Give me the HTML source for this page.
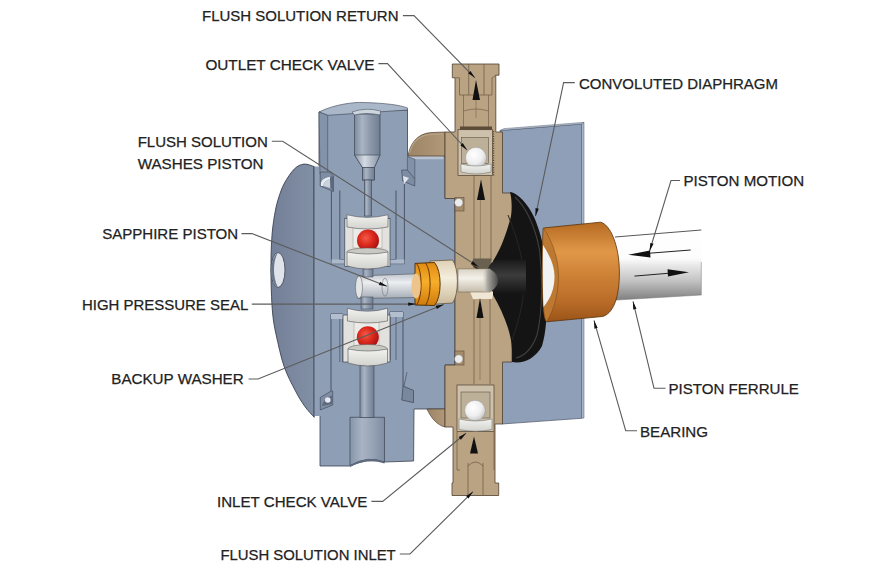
<!DOCTYPE html>
<html><head><meta charset="utf-8">
<style>
html,body{margin:0;padding:0;background:#fff;width:880px;height:569px;overflow:hidden}
svg{display:block}
text{font-family:"Liberation Sans",sans-serif;font-size:15.4px;fill:#222;stroke:#222;stroke-width:0.25}
</style></head><body>
<svg width="880" height="569" viewBox="0 0 880 569">
<defs>
<linearGradient id="gShaft" x1="0" y1="0" x2="0" y2="1">
<stop offset="0" stop-color="#ffffff"/><stop offset="0.4" stop-color="#fcfcfc"/><stop offset="0.5" stop-color="#e8e8e8"/><stop offset="0.72" stop-color="#c2c2c2"/><stop offset="1" stop-color="#7c7c7c"/></linearGradient>
<linearGradient id="gBearing" x1="0" y1="0" x2="0" y2="1">
<stop offset="0" stop-color="#b56a22"/><stop offset="0.3" stop-color="#e09848"/><stop offset="0.5" stop-color="#d08438"/><stop offset="0.8" stop-color="#b86c28"/><stop offset="1" stop-color="#9a5418"/></linearGradient>
<linearGradient id="gBody" x1="0" y1="0" x2="1" y2="0">
<stop offset="0" stop-color="#737f96"/><stop offset="1" stop-color="#8290a6"/></linearGradient>
<linearGradient id="gBore" x1="0" y1="0" x2="1" y2="0">
<stop offset="0" stop-color="#7d8ba0"/><stop offset="0.3" stop-color="#a9b4c3"/><stop offset="0.6" stop-color="#8e9aac"/><stop offset="1" stop-color="#6f7d92"/></linearGradient>
<linearGradient id="gBoreB" x1="0" y1="0" x2="1" y2="0"><stop offset="0" stop-color="#8795aa"/><stop offset="0.35" stop-color="#a8b4c4"/><stop offset="0.65" stop-color="#97a4b7"/><stop offset="1" stop-color="#7f8ca1"/></linearGradient>
<linearGradient id="gShEnd" x1="0" y1="0" x2="1" y2="0"><stop offset="0" stop-color="#dcd8cc" stop-opacity="0"/><stop offset="0.35" stop-color="#a8a6a0"/><stop offset="1" stop-color="#4a4a4a"/></linearGradient>
<linearGradient id="gCone" x1="0" y1="0" x2="1" y2="0">
<stop offset="0" stop-color="#8d99aa"/><stop offset="0.4" stop-color="#d5dbe3"/><stop offset="1" stop-color="#8592a5"/></linearGradient>
<linearGradient id="gPist" x1="0" y1="0" x2="0" y2="1">
<stop offset="0" stop-color="#bfc6cf"/><stop offset="0.35" stop-color="#eceef0"/><stop offset="1" stop-color="#a6adb7"/></linearGradient>
<linearGradient id="gShaftIn" x1="0" y1="0" x2="0" y2="1">
<stop offset="0" stop-color="#d8d2c4"/><stop offset="0.4" stop-color="#f4f1ea"/><stop offset="1" stop-color="#c4bcaa"/></linearGradient>
<linearGradient id="gSeal" x1="0" y1="0" x2="0" y2="1">
<stop offset="0" stop-color="#e08a12"/><stop offset="0.45" stop-color="#f6ae2c"/><stop offset="1" stop-color="#d07a0a"/></linearGradient>
<linearGradient id="gCollar" x1="0" y1="0" x2="0" y2="1">
<stop offset="0" stop-color="#ddd0b4"/><stop offset="0.4" stop-color="#f5eedd"/><stop offset="1" stop-color="#c9ba9a"/></linearGradient>
<linearGradient id="gHub" x1="0" y1="0" x2="0" y2="1">
<stop offset="0" stop-color="#1a1a1a"/><stop offset="0.45" stop-color="#3c3c3c"/><stop offset="1" stop-color="#141414"/></linearGradient>
<radialGradient id="gRed" cx="0.4" cy="0.38" r="0.65">
<stop offset="0" stop-color="#f25a48"/><stop offset="0.5" stop-color="#dc2a1e"/><stop offset="1" stop-color="#a81010"/></radialGradient>
<radialGradient id="gWhiteBall" cx="0.4" cy="0.35" r="0.7">
<stop offset="0" stop-color="#ffffff"/><stop offset="0.6" stop-color="#eeeeee"/><stop offset="1" stop-color="#c2c2c2"/></radialGradient>
<linearGradient id="gWasher" x1="0" y1="0" x2="0" y2="1">
<stop offset="0" stop-color="#f2f2f0"/><stop offset="1" stop-color="#d2d2ce"/></linearGradient>
<linearGradient id="gBrassFl" x1="0" y1="0" x2="1" y2="0">
<stop offset="0" stop-color="#9c8466"/><stop offset="1" stop-color="#b09878"/></linearGradient>
</defs>

<!-- ========== SHAFT ========== -->
<path d="M600,238 L701.3,230 L701.3,295 L600,301 Z" fill="url(#gShaft)"/><path d="M701.3,262 L701.3,295 L600,301" fill="none" stroke="#777" stroke-width="0.5"/>
<path d="M615,237 L701.3,230" stroke="#444" stroke-width="0.9" fill="none"/>

<!-- ========== RIGHT PLATE ========== -->
<path d="M500,130.5 L581.5,124 L581.5,418.3 L502,424 Z" fill="#8e9fb7" stroke="#4a5464" stroke-width="0.7"/>
<path d="M500,130.5 L581.5,124 L584,122.3 L504,128.6 Z" fill="#b4c0d0" stroke="#4a5464" stroke-width="0.4"/>
<path d="M581.5,124 L584,122.3 L584,418 L581.5,418.3 Z" fill="#a9b6c8" stroke="#4a5464" stroke-width="0.5"/>

<!-- ========== LEFT ROUND BODY ========== -->
<path d="M314.0,166.5 C312.3,166.1 307.3,163.7 304.0,164.1 C300.7,164.5 297.6,165.8 294.3,169.0 C291.1,172.2 287.1,178.3 284.5,183.0 C281.9,187.7 280.4,192.3 278.9,197.0 C277.4,201.7 276.4,205.0 275.3,211.0 C274.2,217.0 272.9,224.8 272.2,233.0 C271.5,241.2 271.1,250.5 271.0,260.0 C270.9,269.5 271.0,280.8 271.3,290.0 C271.6,299.2 272.0,307.5 272.8,315.0 C273.6,322.5 274.3,326.4 276.2,335.0 C278.1,343.6 281.0,357.5 284.2,366.7 C287.4,375.9 291.8,383.8 295.2,390.4 C298.6,397.0 301.5,401.7 304.7,406.2 C307.9,410.7 312.6,415.4 314.2,417.3 Z" fill="url(#gBody)" stroke="#3b4352" stroke-width="0.9"/>

<ellipse cx="278" cy="270" rx="7" ry="17.5" fill="#dfe4ea" stroke="#3b4352" stroke-width="0.8"/>
<path d="M278,252.5 C273,256 271,265 271,270 C271,276 273,284 278,287.5 C275,282 274,275 274,270 C274,264 275,257 278,252.5 Z" fill="#6a778b"/>
<!-- ========== HOUSING FRONT ========== -->
<path d="M314,166.5 L320,166.5 L320,416 L314,416 Z" fill="#909fb5"/><path d="M314,166.5 L314,416" stroke="#3b4352" stroke-width="0.8"/>
<path d="M319,112 L407.5,110 L407.5,156 L445,156 L445,198.5 L455,198.5 L455,365 L445,365 L445,409 L414,409 L413.6,461 L384.5,462 Q367.5,457.5 350,466 L320,466 L320,416 L319,166 Z" fill="#8e9eb5"/><path d="M319,166 L319,112 L407.5,110 L407.5,156 L445,156 L445,198.5 L455,198.5 L455,365 L445,365 L445,409 L414,409 L413.6,461 L384.5,462 Q367.5,457.5 350,466 L320,466 L320,416" fill="none" stroke="#3b4352" stroke-width="0.8"/>
<!-- top face -->
<path d="M319,112 C335,104 355,102 363,102.5 C385,103 400,105 407.5,108 L407.5,110 L327.7,115.3 Z" fill="#a9b7c9" stroke="#3b4352" stroke-width="0.6"/>
<!-- left side strip -->
<path d="M319,112 L327.7,115.3 L327.7,174 L320,174 Z" fill="#8293aa" stroke="#3b4352" stroke-width="0.5"/>
<!-- flange top face -->
<path d="M407.5,155.5 L443.5,155.5 L443.5,159.2 L411,159.2 Z" fill="#b8c2d0"/>
<!-- cavity lines -->
<g stroke="#3b4352" stroke-width="0.8" fill="none">
<path d="M331.4,191 L331.4,263.7 L344,263.7"/>
<path d="M339.8,190.5 L339.8,259.5 L344,259.5"/>
<path d="M404.4,184 L404.4,263.7 L390.5,263.7"/>
<path d="M396,190.5 L396,259.5 L390.5,259.5"/>
<path d="M331,391 L331,314 L343,314"/>
<path d="M403,386 L403,312 L390,312"/>
<path d="M339.8,318 L339.8,362" stroke-width="0.6"/>
<path d="M396,316 L396,360" stroke-width="0.6"/>
<path d="M390,312 L390,360"/>
<path d="M343,315 L343,362"/>
</g>
<path d="M331.4,259.5 L404.4,259.5 L404.4,263.7 L331.4,263.7 Z" fill="#b3bfcf" opacity="0.8"/>
<path d="M331,314 L343,314 L343,319 L331,319 Z" fill="#b3bfcf"/><path d="M390,312 L403,312 L403,317 L390,317 Z" fill="#b3bfcf"/>
<!-- snap ring grooves -->
<path d="M320.2,172 L330,172 L333.5,176 L333.5,191.5 L320.2,186 Z" fill="#7e8da3" stroke="#3b4352" stroke-width="0.6"/>
<path d="M321,186 C320,181 324,177.5 330,177 L330,179.5 C326,180 323,183 323.5,186 Z" fill="#e8edf2"/>
<path d="M323.5,186 C323,183 326,180 330,179.5 L330.5,188 Z" fill="#c9d2dd"/>
<path d="M330,177 L333.5,176 L333.5,191.5 L330.5,188 Z" fill="#5d6a7e"/>
<path d="M407.4,156.6 L414.8,159.2 L414.8,178.8 L407.4,176 Z" fill="#8191a8" stroke="#3b4352" stroke-width="0.5"/><path d="M401.6,170 L407.4,170 L414.8,178.8 L414.8,186 L402.6,181 Z" fill="#7c8ca3" stroke="#3b4352" stroke-width="0.6"/><path d="M403,176 L409,178 L404,184 Z" fill="#dfe5ec"/>
<path d="M331.2,391 L320.3,397.5 L320.3,410 L332.7,405 L332.7,391 Z" fill="#7e8da3" stroke="#3b4352" stroke-width="0.6"/>
<path d="M322,406 C323,401 327,397 332,395.5 L332.5,404 Z" fill="#5d6a7e"/>
<circle cx="327.8" cy="400" r="2.8" fill="#e6ebf1"/>
<path d="M403,386 L413.5,390.4 L413.5,402.6 L401.8,400 Z" fill="#7a889e" stroke="#3b4352" stroke-width="0.7"/>
<path d="M407,372 L404,386" stroke="#3b4352" stroke-width="0.6"/>

<!-- top bore -->
<path d="M354.5,114 L380,114 L380,155 L374.3,167.5 L374.3,180 L362.5,180 L362.5,167.5 L354.5,155 Z" fill="url(#gBore)" stroke="#3b4352" stroke-width="0.7"/>
<path d="M354.5,155 L380,155 L374.3,167.5 L362.5,167.5 Z" fill="url(#gCone)" stroke="#3b4352" stroke-width="0.6"/>
<path d="M352,112 Q366,107 380.6,111 L380,115 Q366,112 354.5,115 Z" fill="#cdd5df" stroke="#3b4352" stroke-width="0.5"/>
<rect x="362.5" y="167.5" width="11.8" height="12.5" fill="url(#gBore)" stroke="#3b4352" stroke-width="0.6"/>
<rect x="364.5" y="180" width="7" height="36" fill="url(#gBore)" stroke="#3b4352" stroke-width="0.6"/>
<!-- bottom bore -->
<path d="M350,417.3 L384.5,417.3 L384.5,462 Q367.5,455 350,465.5 Z" fill="url(#gBoreB)" stroke="#3b4352" stroke-width="0.7"/><path d="M350,465.5 Q367.5,455 384.5,462 L384.5,463.5 Q367.5,457.5 350,467 Z" fill="#5f6b7e"/>
<rect x="360" y="365" width="14" height="52.5" fill="url(#gBore)" stroke="#3b4352" stroke-width="0.6"/>

<!-- ========== BRASS ========== -->
<path d="M408,156 C410,144 417,133.5 431,132.6 L445,132 L445,156 Z" fill="url(#gBrassFl)" stroke="#4f4030" stroke-width="0.7"/><path d="M409.5,153 C412,143 418,135 431,134.3 L443,134" fill="none" stroke="#b8a384" stroke-width="1.2"/>
<path d="M427,409 C431,418 437,425 445,427 L445,409 Z" fill="url(#gBrassFl)" stroke="#4f4030" stroke-width="0.7"/>
<path d="M445,132 L455,132 L455,77.8 L452.3,77.8 L452.3,64 L499,64 L499,75.2 L495.8,75.2 L495.8,132 L502.5,132 L502.5,193 L512,193 L512,362 L502.5,362 L502.5,424 L495,424 L495,483 L498.7,483 L498.7,495.5 L452,495.5 L452,483 L453,483 L453,427 L445,427 L445,365 L455,365 L455,198.5 L445,198.5 Z" fill="#b9a383" stroke="#4f4030" stroke-width="0.8"/>
<!-- inner channel -->
<g stroke="#6a5844" stroke-width="0.7" fill="none">
<path d="M474,176 L474,268 M491,176 L491,268 M474,300 L474,384 M490,298 L490,384"/>
<path d="M480.4,200 L480.4,262 M480,318 L480,380" stroke-width="0.5"/>
<path d="M455,77.8 L459.5,77.8 L459.5,95 L492,95 L492,78 L495.8,75.2 M468.7,64 L468.7,95 M484,64 L484,95"/>
<path d="M463.5,95 L463.5,128 M488.5,95 L488.5,128 M463.5,111 Q476,107 488.5,111" stroke-width="0.6"/>
<path d="M476,100 L476,118" stroke-width="0.5"/>
<path d="M468,463 L468,495 M483,463 L483,495 M468,466 Q475.5,458 483,466"/>
<path d="M457,432 L457,470 L460,470 M494,432 L494,470"/>
</g>
<!-- o-ring grooves -->
<rect x="455" y="197.7" width="9" height="13.3" fill="#a48b6b" stroke="#4f4030" stroke-width="0.5"/>
<circle cx="458.7" cy="202.6" r="4.2" fill="#ececec" stroke="#777" stroke-width="0.4"/>
<rect x="455" y="351" width="9" height="14" fill="#a48b6b" stroke="#4f4030" stroke-width="0.5"/>
<circle cx="458.7" cy="359" r="4.2" fill="#ececec" stroke="#777" stroke-width="0.4"/>

<!-- bore chamfers around shaft -->
<path d="M473.5,258.5 L491.7,258.5 L489,269 L480,269 L471,264 Z" fill="#6a6050"/><path d="M471,264 L480,269 L476,269 Z" fill="#2a2418"/>
<path d="M470,291.7 L494,291.7 L492,299 L473,299 Z" fill="#efe7d4"/>

<!-- upper cage -->
<rect x="460" y="126.5" width="32" height="4" fill="#5a4a36"/>
<path d="M493.5,131 L493.5,176" stroke="#5a4a36" stroke-width="1.4" stroke-dasharray="1.2,1.2"/>
<rect x="458" y="129.7" width="34.4" height="45.7" fill="#cdc1ab" stroke="#4f4030" stroke-width="0.7"/>
<rect x="461.5" y="137.5" width="27" height="26" fill="#bdb098" stroke="#4f4030" stroke-width="0.5"/>
<circle cx="476" cy="157.8" r="10.5" fill="url(#gWhiteBall)" stroke="#888" stroke-width="0.4"/>
<path d="M461,164 Q476,168 491,164 L491,172 Q476,176 461,172 Z" fill="url(#gWasher)" stroke="#666" stroke-width="0.5"/>
<!-- lower cage -->
<rect x="457" y="385" width="37" height="46.5" fill="#cdc1ab" stroke="#4f4030" stroke-width="0.7"/>
<rect x="461" y="392" width="29" height="26" fill="#bdb098" stroke="#4f4030" stroke-width="0.5"/>
<circle cx="475" cy="410.6" r="10.3" fill="url(#gWhiteBall)" stroke="#888" stroke-width="0.4"/>
<path d="M459,419 Q475.5,423 492,419 L492,429.5 Q475.5,433 459,429.5 Z" fill="url(#gWasher)" stroke="#666" stroke-width="0.5"/>

<!-- arrows in brass -->
<path d="M476,80 L480,100 L472.5,100 Z" fill="#111"/>
<path d="M481,179.5 L485,200 L477,200 Z" fill="#111"/>
<path d="M480,298 L483.5,318 L476.5,318 Z" fill="#111"/>
<path d="M474,436.5 L478,453.5 L470,453.5 Z" fill="#111"/>

<!-- ========== DIAPHRAGM ========== -->
<path d="M510,192 C518,193 528,204 534,217 C541,233 546.5,255 547,280 C547.5,305 547,330 542,346 C535,359 523,364 512,362 C512,350 513,345 508,328 C504,316 499,305 493,295 L493,261 C500,250 505,238 510,220 C513,210 512,200 510,192 Z" fill="#141414"/>
<path d="M515,197 C525,206 535,225 539.5,250 C542.5,275 543,310 537,335 C532,349 524,356 516,358" stroke="#404040" stroke-width="1.1" fill="none"/><path d="M508,215 C518,240 524,262 524,280 C524,300 520,318 512,340" stroke="#262626" stroke-width="1" fill="none"/>
<path d="M497,259.7 L526,259.7 L526,294 L497,294 C490,291 486.5,285 486.5,277 C486.5,268 490,262 497,259.7 Z" fill="url(#gHub)"/>

<!-- ========== PISTON + SEAL ========== -->
<path d="M358,276 L416,273.8 L416,297.5 L358,298.5 Z" fill="url(#gPist)" stroke="#555" stroke-width="0.6"/>
<ellipse cx="359" cy="287.2" rx="3.5" ry="11.2" fill="#e2e4e6" stroke="#555" stroke-width="0.5"/>
<ellipse cx="385" cy="287.2" rx="3" ry="9" fill="none" stroke="#666" stroke-width="0.5"/>
<path d="M458,268.8 L490,268.8 L490,292 L458,292 Z" fill="url(#gShaftIn)" stroke="#6a5a40" stroke-width="0.5"/>
<path d="M482,269 L490,269 C495,272 498,276 498,280.4 C498,285 495,289 490,291.7 L482,291.7 Z" fill="url(#gShEnd)"/>
<path d="M430,261 L452.5,260 C459,268 459,295 452.5,303 L430,304.5 Z" fill="url(#gCollar)" stroke="#5a4a30" stroke-width="0.7"/>
<path d="M415,263.4 L434.5,262.5 C442,271 442,297 434.5,305.5 L415,305 Z" fill="url(#gSeal)" stroke="#4a2800" stroke-width="0.9"/>
<path d="M425.6,263 C431.6,271 431.6,297 425.6,305.3" fill="none" stroke="#5a3000" stroke-width="0.9"/>
<path d="M416.6,263.5 C422.6,271 422.6,297 416.6,305" fill="none" stroke="#5a3000" stroke-width="0.9"/>
<ellipse cx="416" cy="286" rx="4.6" ry="12.5" fill="#efc48c"/>
<!-- piston small rods -->
<rect x="363" y="269" width="10" height="8" fill="url(#gBore)" stroke="#3b4352" stroke-width="0.5"/>
<rect x="361" y="297" width="12" height="12" fill="url(#gBore)" stroke="#3b4352" stroke-width="0.5"/>

<!-- ========== WHITE CAGES / RED BALLS ========== -->
<rect x="344.8" y="218.5" width="45.2" height="48" fill="#e2e1dd" stroke="#3b4352" stroke-width="0.7"/>
<rect x="353" y="226" width="29" height="22" fill="#ecebe8" stroke="#888" stroke-width="0.4"/>
<path d="M347,214.8 Q367.5,220 388,214.8 L388,227 Q367.5,231 347,227 Z" fill="url(#gWasher)" stroke="#555" stroke-width="0.6"/>
<circle cx="368" cy="240.6" r="11" fill="url(#gRed)"/>
<ellipse cx="367.5" cy="252" rx="20.5" ry="4" fill="#c9c9c4" stroke="#555" stroke-width="0.5"/>
<path d="M347,252 Q367.5,256 388,252 L388,266 Q367.5,272 347,266 Z" fill="url(#gWasher)" stroke="#555" stroke-width="0.6"/>

<rect x="343" y="315" width="47" height="47" fill="#e2e1dd" stroke="#3b4352" stroke-width="0.7"/>
<rect x="354" y="321" width="25" height="25" fill="#ecebe8" stroke="#888" stroke-width="0.4"/>
<path d="M347.4,308.4 Q367.5,314 387.5,308.4 L387.5,321 Q367.5,325 347.4,321 Z" fill="url(#gWasher)" stroke="#555" stroke-width="0.6"/>
<circle cx="367.8" cy="337.3" r="11" fill="url(#gRed)"/>
<ellipse cx="367.7" cy="349" rx="19.8" ry="4.5" fill="#c9c9c4" stroke="#555" stroke-width="0.5"/>
<path d="M348,349 Q367.7,353 387.5,349 L387.5,363 Q367.7,369 348,363 Z" fill="url(#gWasher)" stroke="#555" stroke-width="0.6"/>

<!-- ========== BEARING ========== -->
<path d="M543.4,228 L600.4,222.2 C610,224 619.4,245 619.4,273 C619.4,300 612,314 602.5,316.5 L546.6,321.8 C543,318 542.5,295 542.5,274 C542.5,252 542.8,232 543.4,228 Z" fill="url(#gBearing)" stroke="#5a3208" stroke-width="0.8"/>
<path d="M543.4,228 C554,243 558.5,262 558.5,276 C558.5,292 555,308 546.6,321.8 C543,318 542.5,295 542.5,274 C542.5,252 542.8,232 543.4,228 Z" fill="#bd7832" stroke="#7a4614" stroke-width="0.5"/>
<path d="M543,245 C550,256 554.5,266 554.5,276 C554.5,288 551,298 543.5,307 C542.8,295 542.5,258 543,245 Z" fill="#f2f2f2"/>

<!-- ========== LEADER LINES ========== -->
<g stroke="#5c5c5c" stroke-width="1.1" fill="none">
<path d="M402.9,15.6 L414.0,15.6 L474.9,77.8"/>
<path d="M378.4,63.6 L387.5,63.6 L467.0,150.0"/>
<path d="M574.8,82.6 L563.6,82.6 L535.5,216.2"/>
<path d="M271.8,141.2 L282.7,141.2 L478.7,266.9"/>
<path d="M241.4,233.6 L252.0,233.6 L386.9,286.2"/>
<path d="M251.8,304.1 L416.2,304.1"/>
<path d="M248.6,379.0 L258.0,379.0 L443.7,304.4"/>
<path d="M680.0,180.5 L671.0,180.5 L649.6,251.0"/>
<path d="M665.5,388.2 L654.0,388.2 L633.0,301.4"/>
<path d="M637.0,430.7 L625.7,430.7 L594.0,320.4"/>
<path d="M371.4,501.4 L382.7,501.4 L466.0,433.3"/>
<path d="M399.8,554.0 L410.0,554.0 L473.0,491.7"/>
</g>
<path fill="#111" d="M474.9,77.8 L468.1,73.3 L470.5,70.9 Z M467.0,150.0 L460.3,145.3 L462.8,143.0 Z M535.5,216.2 L535.5,208.0 L538.8,208.7 Z M478.7,266.9 L471.0,264.0 L472.9,261.2 Z M386.9,286.2 L378.8,284.9 L380.1,281.7 Z M416.2,304.1 L408.2,305.8 L408.2,302.4 Z M443.7,304.4 L436.9,309.0 L435.6,305.8 Z M649.6,251.0 L650.3,242.9 L653.6,243.8 Z M633.0,301.4 L636.5,308.8 L633.2,309.6 Z M594.0,320.4 L597.7,327.8 L594.4,328.7 Z M466.0,433.3 L460.9,439.7 L458.7,437.0 Z M473.0,491.7 L468.5,498.5 L466.1,496.1 Z"/>
<path d="M690.7,250 L649.6,253.2" stroke="#222" stroke-width="1" fill="none"/>
<path d="M628.2,254.8 L650,250.6 L650.5,257.6 Z" fill="#111"/>
<path d="M634.5,276.1 L668,273.3" stroke="#222" stroke-width="1" fill="none"/>
<path d="M689,272.2 L667.5,269.2 L668,276.6 Z" fill="#111"/>

<!-- ========== TEXT ========== -->
<text x="202.0" y="21.0" textLength="196.5" lengthAdjust="spacingAndGlyphs">FLUSH SOLUTION RETURN</text>
<text x="205.4" y="69.5" textLength="169.0" lengthAdjust="spacingAndGlyphs">OUTLET CHECK VALVE</text>
<text x="579.0" y="88.7" textLength="199.0" lengthAdjust="spacingAndGlyphs">CONVOLUTED DIAPHRAGM</text>
<text x="137.7" y="147.0" textLength="130.1" lengthAdjust="spacingAndGlyphs">FLUSH SOLUTION</text>
<text x="137.7" y="168.5" textLength="125.8" lengthAdjust="spacingAndGlyphs">WASHES PISTON</text>
<text x="683.5" y="185.7" textLength="120.6" lengthAdjust="spacingAndGlyphs">PISTON MOTION</text>
<text x="102.2" y="239.3" textLength="136.0" lengthAdjust="spacingAndGlyphs">SAPPHIRE PISTON</text>
<text x="82.0" y="310.0" textLength="166.2" lengthAdjust="spacingAndGlyphs">HIGH PRESSURE SEAL</text>
<text x="111.3" y="384.3" textLength="132.4" lengthAdjust="spacingAndGlyphs">BACKUP WASHER</text>
<text x="668.5" y="393.8" textLength="130.4" lengthAdjust="spacingAndGlyphs">PISTON FERRULE</text>
<text x="640.0" y="436.6" textLength="68.0" lengthAdjust="spacingAndGlyphs">BEARING</text>
<text x="217.0" y="506.8" textLength="150.3" lengthAdjust="spacingAndGlyphs">INLET CHECK VALVE</text>
<text x="220.4" y="559.8" textLength="175.3" lengthAdjust="spacingAndGlyphs">FLUSH SOLUTION INLET</text>
</svg>
</body></html>
